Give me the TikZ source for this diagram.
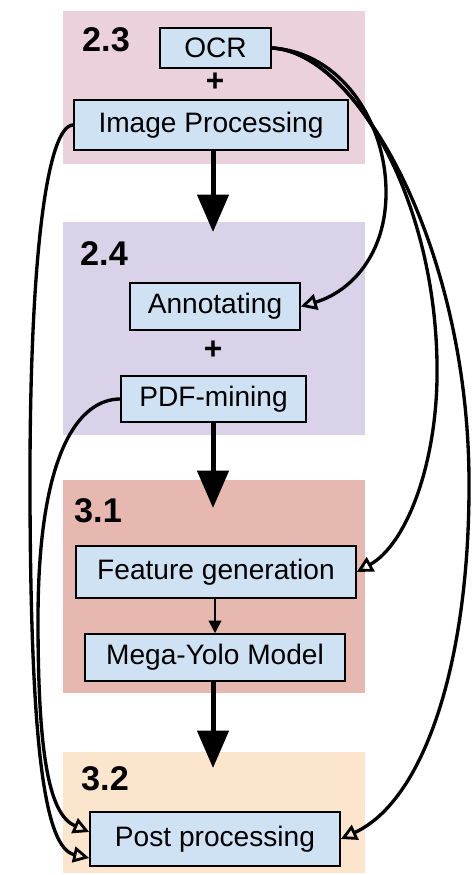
\documentclass[tikz,border=0pt]{standalone}
\usepackage{fontspec}
\setmainfont{Liberation Sans}
\usetikzlibrary{arrows.meta}
\definecolor{panelA}{HTML}{EAD1DC}
\definecolor{panelB}{HTML}{D9D2E9}
\definecolor{panelC}{HTML}{E6B8AF}
\definecolor{panelD}{HTML}{FCE5CD}
\definecolor{boxfill}{HTML}{CFE2F3}
\begin{document}
\begin{tikzpicture}[x=0.02cm,y=-0.02cm,
  box/.style={draw=black,line width=0.9pt,fill=boxfill,inner sep=0pt,
    font=\fontsize{16}{19}\selectfont},
  sec/.style={font=\fontsize{19.5}{22}\selectfont\bfseries,inner sep=0pt},
  plus/.style={font=\fontsize{18}{20}\selectfont\bfseries,inner sep=0pt},
  bigarrow/.style={line width=0.1cm,-{Triangle[length=0.75cm,width=0.62cm]}},
  curvearrow/.style={line width=1.9pt,-{Triangle[open,length=0.32cm,width=0.32cm,line width=1.6pt]}},
  smallarrow/.style={line width=1.1pt,-{Triangle[length=0.25cm,width=0.25cm]}}
]
\useasboundingbox (0,0) rectangle (471,875);
\fill[white] (0,0) rectangle (471,875);
% panels
\fill[panelA] (63,11) rectangle (365,164);
\fill[panelB] (63,222) rectangle (365,435);
\fill[panelC] (63,480) rectangle (365,693);
\fill[panelD] (63,752) rectangle (365,873);
% section labels
\node[sec] (s23) at (106,40) {2.3};
\node[sec] (s24) at (104,254) {2.4};
\node[sec] (s31) at (98,511) {3.1};
\node[sec] (s32) at (105,779) {3.2};
% boxes
\node[box,minimum width=111*0.02cm,minimum height=40*0.02cm] (ocr) at (215.5,48) {OCR};
\node[plus] (p1) at (215,82) {+};
\node[box,minimum width=274*0.02cm,minimum height=50*0.02cm] (img) at (211,125) {Image Processing};
\node[box,minimum width=170*0.02cm,minimum height=47*0.02cm] (ann) at (215,306.5) {Annotating};
\node[plus] (p2) at (213,350) {+};
\node[box,minimum width=185*0.02cm,minimum height=46*0.02cm] (pdf) at (213.5,399) {PDF-mining};
\node[box,minimum width=280*0.02cm,minimum height=52*0.02cm] (feat) at (216,572) {Feature generation};
\node[box,minimum width=260*0.02cm,minimum height=47*0.02cm] (mega) at (215,657.5) {Mega-Yolo Model};
\node[box,minimum width=250*0.02cm,minimum height=54*0.02cm] (post) at (215,839) {Post processing};
% big arrows
\coordinate (t1) at (213,232);
\coordinate (t2) at (213,508);
\coordinate (t3) at (213,768);
\draw[bigarrow] (img.south -| t1) -- (t1);
\draw[bigarrow] (pdf.south -| t2) -- (t2);
\draw[bigarrow] (mega.south -| t3) -- (t3);
% small arrow
\draw[smallarrow] (feat.south -| mega.north) -- (mega.north);
% curved arrows
\draw[curvearrow] (ocr.east) .. controls (340,52) and (385,120) .. (386,190)
   .. controls (387,255) and (350,292) .. (ann.east);
\draw[curvearrow] (ocr.east) .. controls (350,52) and (440,200) .. (437,380)
   .. controls (435,470) and (405,545) .. (feat.east);
\draw[curvearrow] (ocr.east) .. controls (360,52) and (468,250) .. (469,480)
   .. controls (470,660) and (425,800) .. (post.east);
\draw[curvearrow] (img.west) .. controls (48,125) and (29,250) .. (30,500)
   .. controls (31,750) and (45,848) .. ([yshift=-0.38cm]post.west);
\draw[curvearrow] (pdf.west) .. controls (80,399) and (38,450) .. (38,620)
   .. controls (38,760) and (50,815) .. ([yshift=0.14cm]post.west);
\end{tikzpicture}
\end{document}
